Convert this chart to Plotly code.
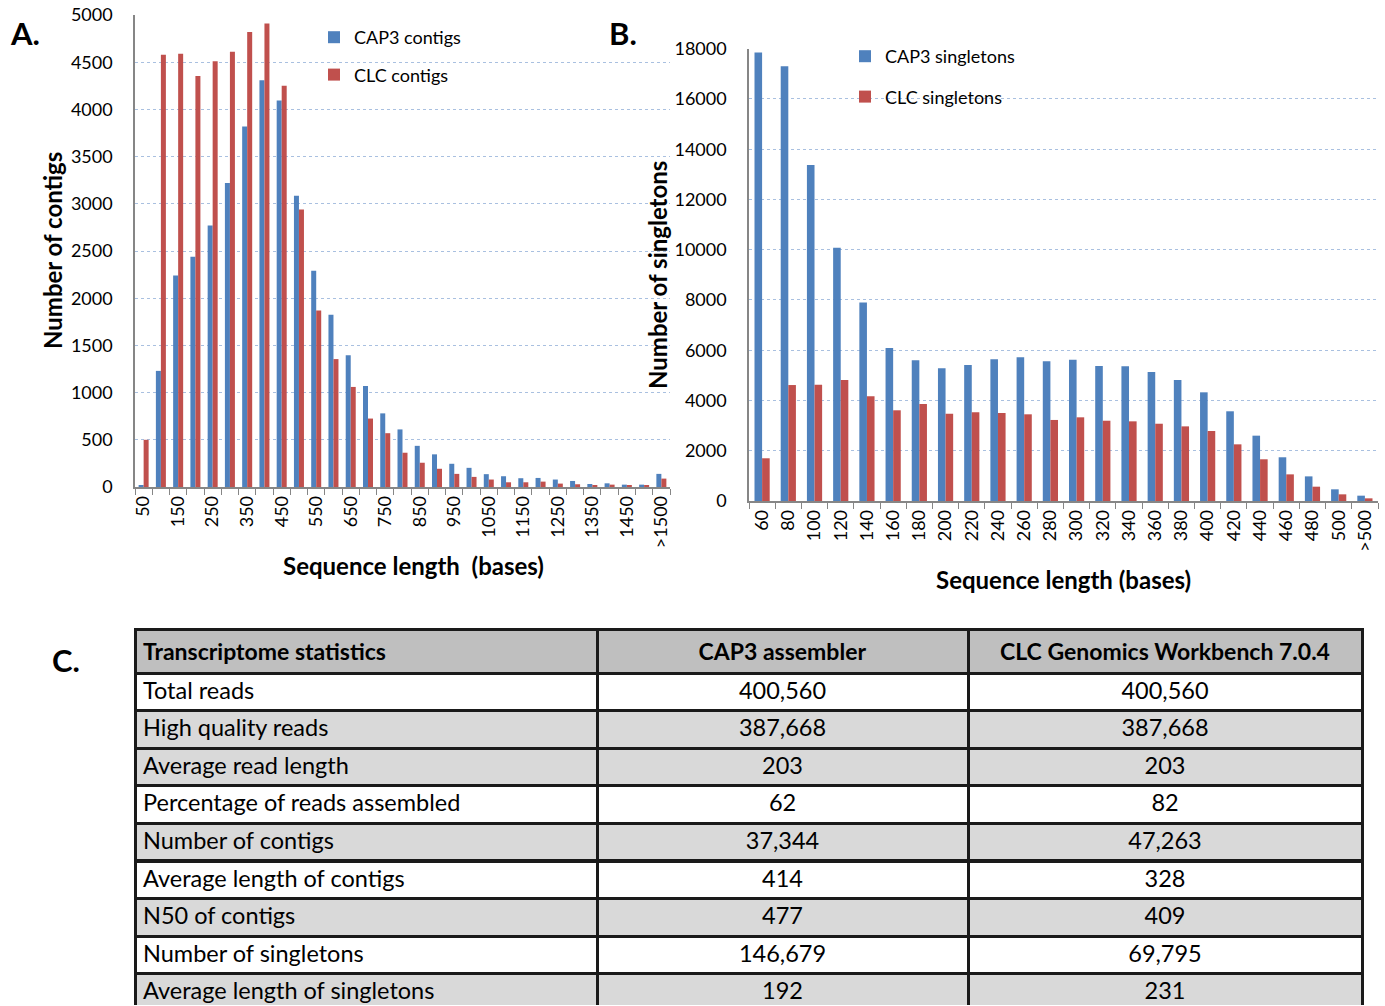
import plotly.graph_objects as go

# ---------------- Panel A: contig length distribution ----------------
contig_bins = [str(v) for v in range(50, 1501, 50)] + [">1500"]
cap3_contigs = [18, 1230, 2240, 2440, 2770, 3220, 3820, 4310, 4095, 3085,
                2290, 1825, 1395, 1070, 780, 610, 436, 346, 246, 203,
                136, 114, 93, 96, 79, 64, 32, 39, 25, 25, 139]
clc_contigs = [500, 4580, 4590, 4355, 4510, 4610, 4820, 4910, 4250, 2940,
               1870, 1355, 1060, 725, 570, 363, 257, 193, 139, 107,
               79, 50, 50, 57, 36, 29, 21, 25, 18, 14, 89]

# ---------------- Panel B: singleton length distribution ----------------
singleton_bins = [str(v) for v in range(60, 501, 20)] + [">500"]
cap3_singletons = [17850, 17300, 13370, 10080, 7900, 6090, 5600, 5280, 5410, 5640,
                   5720, 5560, 5620, 5370, 5360, 5130, 4815, 4325, 3570, 2600,
                   1740, 980, 465, 212]
clc_singletons = [1700, 4615, 4630, 4815, 4165, 3610, 3860, 3475, 3530, 3500,
                  3450, 3225, 3330, 3195, 3170, 3075, 2970, 2785, 2255, 1660,
                  1060, 570, 265, 106]

# ---------------- Panel C: assembly statistics ----------------
stat_names = ["Total reads", "High quality reads", "Average read length",
              "Percentage of reads assembled", "Number of contigs",
              "Average length of contigs", "N50 of contigs",
              "Number of singletons", "Average length of singletons"]
cap3_stats = ["400,560", "387,668", "203", "62", "37,344", "414", "477",
              "146,679", "192"]
clc_stats = ["400,560", "387,668", "203", "82", "47,263", "328", "409",
             "69,795", "231"]
table_headers = ["Transcriptome statistics", "CAP3 assembler",
                 "CLC Genomics Workbench 7.0.4"]

BLUE = "#4F81BD"
RED = "#C0504D"
FONT = "Lato"
W, H = 1385, 1006

fig = go.Figure()

# Panel A bars
fig.add_trace(go.Bar(x=contig_bins, y=cap3_contigs, name="CAP3 contigs",
                     marker=dict(color=BLUE, line=dict(width=0)),
                     xaxis="x", yaxis="y", legend="legend", legendgroup="a1"))
fig.add_trace(go.Bar(x=contig_bins, y=clc_contigs, name="CLC contigs",
                     marker=dict(color=RED, line=dict(width=0)),
                     xaxis="x", yaxis="y", legend="legend", legendgroup="a2"))

# Panel B bars
fig.add_trace(go.Bar(x=singleton_bins, y=cap3_singletons, name="CAP3 singletons",
                     marker=dict(color=BLUE, line=dict(width=0)),
                     xaxis="x2", yaxis="y2", legend="legend2", legendgroup="b1"))
fig.add_trace(go.Bar(x=singleton_bins, y=clc_singletons, name="CLC singletons",
                     marker=dict(color=RED, line=dict(width=0)),
                     xaxis="x2", yaxis="y2", legend="legend2", legendgroup="b2"))

# Panel C table
white, grey = "#FFFFFF", "#D9D9D9"
row_fill = [white, grey, grey, white, grey, white, grey, white, grey]
fig.add_trace(go.Table(
    domain=dict(x=[135 / W, 1362 / W], y=[0, 1 - 629 / H]),
    columnwidth=[462, 371, 394],
    header=dict(values=[f"<b>{h}</b>" for h in table_headers],
                align=["left", "center", "center"],
                fill_color="#BFBFBF",
                line=dict(color="#1A1A1A", width=3),
                font=dict(family=FONT, size=23, color="black"),
                height=37.6),
    cells=dict(values=[stat_names, cap3_stats, clc_stats],
               align=["left", "center", "center"],
               fill_color=[row_fill] * 3,
               line=dict(color="#1A1A1A", width=3),
               font=dict(family=FONT, size=23.5, color="black"),
               height=37.6),
))


def tick_text(cats):
    return [c if i % 2 == 0 else "" for i, c in enumerate(cats)]


grid = dict(showgrid=True, gridcolor="#A9C0E0", griddash="dot", gridwidth=1)
axis_line = dict(showline=True, linecolor="#868686", linewidth=1.5,
                 automargin=False)
tick_font = dict(family=FONT, size=18, color="black")

fig.update_layout(
    template="none",
    width=W, height=H,
    margin=dict(l=0, r=0, t=0, b=0, pad=0),
    paper_bgcolor="white", plot_bgcolor="white",
    font=dict(family=FONT, color="black"),
    barmode="group", bargap=0.42, bargroupgap=0,
    xaxis=dict(domain=[135 / W, 670 / W], anchor="y", type="category",
               tickmode="array", tickvals=contig_bins,
               ticktext=tick_text(contig_bins), tickangle=-90,
               tickson="boundaries", ticks="outside", ticklen=6,
               tickcolor="#868686", tickfont=tick_font, showgrid=False,
               zeroline=False, **axis_line),
    yaxis=dict(domain=[1 - 487 / H, 1 - 15 / H], anchor="x",
               range=[0, 5000], dtick=500, tickformat="d", ticks="",
               tickfont=tick_font, ticklabelstandoff=17, zeroline=False,
               **grid, **axis_line),
    xaxis2=dict(domain=[749 / W, 1378 / W], anchor="y2", type="category",
                tickmode="array", tickvals=singleton_bins,
                ticktext=singleton_bins, tickangle=-90,
                tickson="boundaries", ticks="outside", ticklen=6,
                tickcolor="#868686", tickfont=tick_font, showgrid=False,
                zeroline=False, **axis_line),
    yaxis2=dict(domain=[1 - 501 / H, 1 - 48.7 / H], anchor="x2",
                range=[0, 18000], dtick=2000, tickformat="d", ticks="",
                tickfont=tick_font, ticklabelstandoff=17, zeroline=False,
                **grid, **axis_line),
    legend=dict(x=314 / W, y=1 - 19 / H, xanchor="left", yanchor="top",
                bgcolor="rgba(0,0,0,0)", tracegroupgap=11,
                font=dict(family=FONT, size=18, color="black")),
    legend2=dict(x=845 / W, y=1 - 38 / H, xanchor="left", yanchor="top",
                 bgcolor="rgba(0,0,0,0)", tracegroupgap=14,
                 font=dict(family=FONT, size=18, color="black")),
)

# Axis titles and panel letters
title_font = dict(family=FONT, size=24, color="black")
letter_font = dict(family=FONT, size=31, color="black")
annotations = [
    dict(text="<b>Number of contigs</b>", x=52, y=251, textangle=-90),
    dict(text="<b>Sequence length\u00a0 (bases)</b>", x=413, y=565, textangle=0),
    dict(text="<b>Number of singletons</b>", x=657, y=275, textangle=-90),
    dict(text="<b>Sequence length (bases)</b>", x=1063, y=579, textangle=0),
]
for a in annotations:
    fig.add_annotation(text=a["text"], x=a["x"] / W, y=1 - a["y"] / H,
                       xref="paper", yref="paper", showarrow=False,
                       textangle=a["textangle"], font=title_font,
                       xanchor="center", yanchor="middle")
for letter, x, y in [("A.", 25, 33), ("B.", 623, 33), ("C.", 66, 660)]:
    fig.add_annotation(text=f"<b>{letter}</b>", x=x / W, y=1 - y / H,
                       xref="paper", yref="paper", showarrow=False,
                       font=letter_font, xanchor="center", yanchor="middle")

fig.write_html("out.html")
